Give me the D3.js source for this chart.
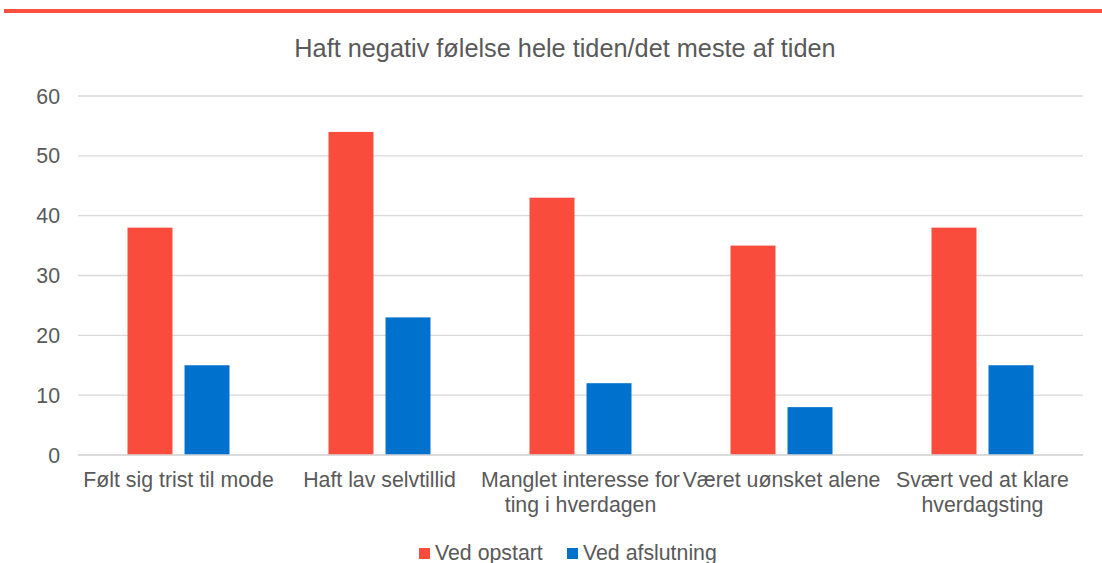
<!DOCTYPE html>
<html><head><meta charset="utf-8">
<script src="https://cdn.jsdelivr.net/npm/d3@7"></script>
<style>body{margin:0;background:#fff}svg{display:block}text{font-family:"Liberation Sans",Arial,sans-serif;fill:#595959}</style>
</head><body><svg id="c" width="1102" height="563"></svg>
<script>
const title = "Haft negativ følelse hele tiden/det meste af tiden";
const categories = ["Følt sig trist til mode","Haft lav selvtillid","Manglet interesse for ting i hverdagen","Været uønsket alene","Svært ved at klare hverdagsting"];
const categoryLines = [["Følt sig trist til mode"],["Haft lav selvtillid"],["Manglet interesse for","ting i hverdagen"],["Været uønsket alene"],["Svært ved at klare","hverdagsting"]];
const seriesNames = ["Ved opstart","Ved afslutning"];
const opstart = [38,54,43,35,38];
const afslutning = [15,23,12,8,15];
const yTicks = [0,10,20,30,40,50,60];
const colors = ["#F94C3C","#0072CE"];

const svg = d3.select("#c");
svg.append("rect").attr("x",4).attr("y",9).attr("width",1098).attr("height",4).attr("fill","#FF4F40");

const pLeft=78,pRight=1083,pTop=96,pBottom=455;
const x = d3.scaleBand().domain(categories).range([pLeft,pRight]).padding(0);
const x1 = d3.scaleBand().domain(seriesNames).range([49.5,151.5]).paddingInner(0.211);
const y = d3.scaleLinear().domain([0,60]).range([pBottom,pTop]);

svg.append("text").attr("x",565).attr("y",57).attr("text-anchor","middle").style("font-size","25.3px").text(title);

const g = svg.append("g");
g.selectAll("line.grid").data(yTicks).join("line").attr("class","grid")
 .attr("x1",pLeft).attr("x2",pRight).attr("y1",d=>y(d)).attr("y2",d=>y(d))
 .attr("stroke","#d9d9d9").attr("stroke-width",1.3);
g.selectAll("text.yt").data(yTicks).join("text").attr("class","yt")
 .attr("x",60).attr("y",d=>y(d)+7.5).attr("text-anchor","end").style("font-size","21.3px").text(d=>d);

const data = categories.map((c,i)=>({c, vals:[opstart[i],afslutning[i]]}));
const grp = g.selectAll("g.cat").data(data).join("g").attr("class","cat").attr("transform",d=>`translate(${x(d.c)},0)`);
grp.selectAll("rect").data(d=>d.vals.map((v,j)=>({s:seriesNames[j],v,j}))).join("rect")
 .attr("x",d=>x1(d.s)).attr("width",x1.bandwidth())
 .attr("y",d=>y(d.v)).attr("height",d=>y(0)-y(d.v)).attr("fill",d=>colors[d.j]);

g.append("line").attr("x1",pLeft).attr("x2",pRight).attr("y1",pBottom).attr("y2",pBottom).attr("stroke","#d9d9d9").attr("stroke-width",1.5);

categories.forEach((c,i)=>{
  const t = svg.append("text").attr("text-anchor","middle").style("font-size","21.3px");
  categoryLines[i].forEach((ln,k)=>{
    t.append("tspan").attr("x",x(c)+x.bandwidth()/2).attr("y",487+k*25).text(ln);
  });
});

const lg = [{x:419,tx:435},{x:567,tx:583}];
seriesNames.forEach((s,i)=>{
  svg.append("rect").attr("x",lg[i].x).attr("y",548).attr("width",11).attr("height",11).attr("fill",colors[i]);
  svg.append("text").attr("x",lg[i].tx).attr("y",560).style("font-size","21.3px").text(s);
});
</script></body></html>
